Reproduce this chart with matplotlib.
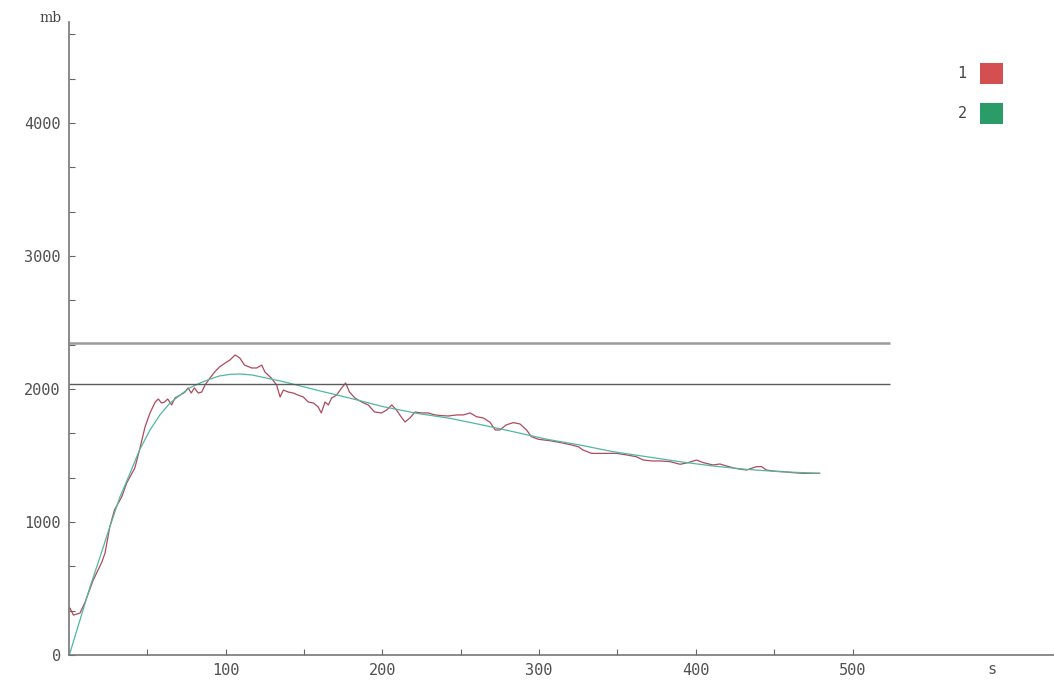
import numpy as np
import matplotlib.pyplot as plt
from matplotlib.ticker import MultipleLocator, FixedLocator
from matplotlib.patches import Rectangle


# measured trace (curve 1)
t1 = [0, 0.6, 2.8, 7, 10, 15.5, 21, 23, 26, 29, 33.6, 36.8, 42, 45, 48.5, 51.7, 55, 57, 59, 61,
      63, 65.5, 67.6, 71, 74, 76, 78, 80, 82.5, 84.7, 86.8, 90, 93, 96, 99.6, 102.7, 106, 109, 112,
      116.6, 119.8, 123, 125, 129, 132.5, 134.7, 136.8, 140, 143, 146, 149.5, 152.7, 156, 159, 161,
      163.4, 165.5, 167.6, 170.8, 174, 176.5, 179, 182.5, 186.8, 191, 195, 199.5, 202.7, 206, 209,
      212, 214.4, 217.6, 220.8, 225, 229, 233.6, 237.8, 242, 247.4, 251.6, 256, 260, 264.4, 268.7,
      272, 275, 279, 283.5, 287.8, 292, 295, 299.5, 307, 314, 320.8, 325, 328, 333.6, 339, 344,
      349.5, 356, 362, 366.5, 372, 377, 383.5, 390, 395, 400.5, 404.8, 411, 415.4, 419.7, 425, 429,
      432.5, 435.6, 438.8, 442, 445, 449.5, 456, 462, 468.6, 475, 479]
p1 = [345, 353, 300, 315, 390, 564, 700, 767, 962, 1090, 1188, 1293, 1406, 1541, 1714, 1820, 1902,
      1925, 1895, 1902, 1925, 1880, 1932, 1955, 1977, 2008, 1970, 2008, 1970, 1977, 2030, 2083, 2128,
      2165, 2195, 2218, 2256, 2233, 2180, 2158, 2158, 2180, 2128, 2083, 2030, 1940, 1992, 1977, 1970,
      1955, 1940, 1902, 1895, 1865, 1820, 1902, 1880, 1932, 1955, 2008, 2045, 1977, 1932, 1902, 1880,
      1827, 1820, 1842, 1880, 1842, 1790, 1752, 1782, 1827, 1820, 1820, 1805, 1800, 1797, 1805, 1805,
      1820, 1792, 1782, 1750, 1692, 1692, 1730, 1747, 1737, 1692, 1642, 1622, 1611, 1596, 1579, 1566,
      1541, 1516, 1516, 1516, 1516, 1504, 1491, 1466, 1459, 1459, 1454, 1434, 1446, 1466, 1446, 1429,
      1436, 1421, 1404, 1396, 1391, 1404, 1416, 1416, 1391, 1383, 1378, 1371, 1366, 1366, 1366]

# fitted curve (curve 2)
t2 = [0.6, 7, 13.4, 19.8, 26, 32.5, 39, 45, 51.7, 58, 64.5, 71, 77, 83.6, 90, 96, 102.7, 109, 117,
      136.8, 158, 179, 200.6, 222, 243, 264, 283.5, 305, 326, 347, 368.6, 390, 411, 432, 454, 479]
p2 = [15, 263, 511, 737, 962, 1188, 1368, 1541, 1692, 1805, 1895, 1955, 2008, 2045, 2075, 2098,
      2110, 2113, 2105, 2055, 1992, 1932, 1867, 1817, 1780, 1729, 1679, 1622, 1579, 1529, 1491,
      1453, 1421, 1396, 1378, 1366]

# reference levels
levels = [2346, 2038]
level_end = 524

xticks = [100, 200, 300, 400, 500]
xminor = [50, 150, 250, 350, 450]
yticks = [0, 1000, 2000, 3000, 4000]

plt.rcParams['font.family'] = ['DejaVu Sans Mono', 'DejaVu Sans']

fig = plt.figure(figsize=(10.54, 6.81), dpi=100)
ax = fig.add_axes([69/1054, 26/681, 985/1054, 633/681])

ax.plot(t1, p1, color='#b04a5c', lw=0.9)
ax.plot(t2, p2, color='#4fb7a2', lw=0.9)

ax.hlines(levels[0], 0, level_end, color='#9a9a9a', lw=1.8)
ax.hlines(levels[1], 0, level_end, color='#5a5a5a', lw=1.0)

ax.set_xlim(0, 985/1.567)
ax.set_ylim(0, 633/0.133)

ax.spines['top'].set_visible(False)
ax.spines['right'].set_visible(False)
for s in ('left', 'bottom'):
    ax.spines[s].set_color('#777777')
    ax.spines[s].set_linewidth(1.2)

ax.set_xticks(xticks)
ax.set_yticks(yticks)
ax.xaxis.set_minor_locator(FixedLocator(xminor))
ax.yaxis.set_minor_locator(MultipleLocator(1000/3))
ax.tick_params(which='both', direction='in', length=4, width=0.8, color='#666666',
               labelsize=11, labelcolor='#505050')
ax.tick_params(axis='x', pad=6)
ax.tick_params(axis='y', pad=6)
ax.set_yticklabels(['0', '1000', '2000', '3000', '4000'])
ax.set_xticklabels(['100', '200', '300', '400', '500'])

fig.text(50/1054, 1 - 18/681, 'mb', fontsize=10, color='#444444', ha='center', va='center',
         family='DejaVu Serif')
fig.text(992/1054, 1 - 670/681, 's', fontsize=11, color='#555555', ha='center', va='center')

# legend swatches
for lab, col, ytop in [('1', '#d44f50', 63), ('2', '#2b9b68', 103)]:
    fig.patches.append(Rectangle((980/1054, 1 - (ytop + 21)/681), 23/1054, 21/681,
                                 transform=fig.transFigure, facecolor=col, edgecolor='none'))
    fig.text(962/1054, 1 - (ytop + 10)/681, lab, fontsize=11, color='#444444',
             ha='center', va='center')

fig.savefig('out.png', dpi=100)
